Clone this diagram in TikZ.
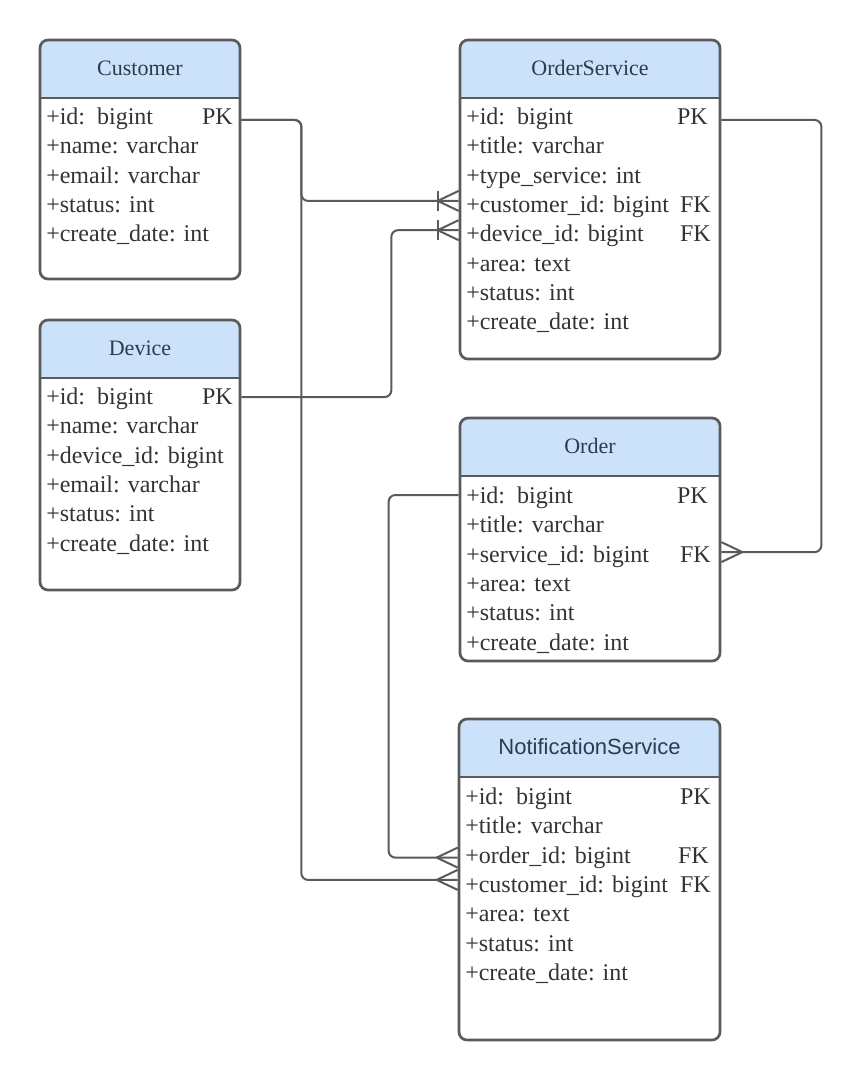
\documentclass[tikz,border=0pt]{standalone}
\usepackage{fontspec}
\setmainfont{Liberation Serif}
\newfontfamily\hsans{Liberation Sans}
\usetikzlibrary{fit,calc}
\definecolor{bordergray}{HTML}{5A5A5A}
\definecolor{hdrblue}{HTML}{CCE1FA}
\definecolor{hdrtextc}{HTML}{2E3B4C}
\definecolor{rowtextc}{HTML}{333333}
\definecolor{conncol}{HTML}{5A5A5A}
\tikzset{
  tbl/.style={draw=bordergray, line width=2pt, rounded corners=6pt, inner sep=0pt},
  tblline/.style={draw=bordergray, line width=2pt},
  hdr/.style={fill=hdrblue},
  hdrtext/.style={text=hdrtextc, font=\fontsize{16.5}{20}\selectfont, inner sep=0pt},
  row/.style={text=rowtextc, font=\fontsize{18}{22}\selectfont, inner sep=0pt, text height=12.5pt, text depth=4pt, anchor=west, yshift=-1.5pt},
  keyl/.style={row, anchor=east},
  conn/.style={draw=conncol, line width=1.5pt},
}
\newcommand{\erbox}[6]{%
  \fill[hdr] (#2,#3+58) [rounded corners=6pt] -- (#2,#3) -- (#4,#3) [sharp corners] -- (#4,#3+58) -- cycle;
  \node[tbl, fit={(#2,#3)(#4,#5)}] (#1) {};
  \draw[tblline] (#2,#3+58) -- (#4,#3+58);
  \node[hdrtext] (#1-t) at ({(#2+#4)/2},#3+28) {#6};
}
\newcommand{\crowW}[1]{\draw[conn] ($(#1)+(-21,0)$) -- ($(#1)+(0,-10)$) ($(#1)+(-21,0)$) -- ($(#1)+(0,10)$);}
\newcommand{\crowE}[1]{\draw[conn] ($(#1)+(21,0)$) -- ($(#1)+(0,-10)$) ($(#1)+(21,0)$) -- ($(#1)+(0,10)$);}
\newcommand{\barW}[1]{\draw[conn] ($(#1)+(-21,-10)$) -- ($(#1)+(-21,10)$);}
\begin{document}
\begin{tikzpicture}[x=0.75pt,y=-0.75pt]
\useasboundingbox (0,0) rectangle (860,1080);
% Customer
\erbox{cust}{40}{40}{240}{279}{Customer}
\node[row] (c1) at (46,117) {+id:\ \ bigint};
\node[keyl] (cpk) at (233,117) {PK};
\node[row] (c2) at (46,146.3) {+name: varchar};
\node[row] (c3) at (46,175.6) {+email: varchar};
\node[row] (c4) at (46,204.9) {+status: int};
\node[row] (c5) at (46,234.2) {+create\_date: int};
% Device
\erbox{dev}{40}{320}{240}{590}{Device}
\node[row] (d1) at (46,397) {+id:\ \ bigint};
\node[keyl] (dpk) at (233,397) {PK};
\node[row] (d2) at (46,426.3) {+name: varchar};
\node[row] (d3) at (46,455.6) {+device\_id: bigint};
\node[row] (d4) at (46,484.9) {+email: varchar};
\node[row] (d5) at (46,514.2) {+status: int};
\node[row] (d6) at (46,543.5) {+create\_date: int};
% OrderService
\erbox{os}{460}{40}{720}{359}{OrderService}
\node[row] (os1) at (466,117) {+id:\ \ bigint};
\node[keyl] (ospk) at (708,117) {PK};
\node[row] (os2) at (466,146.3) {+title: varchar};
\node[row] (os3) at (466,175.6) {+type\_service: int};
\node[row] (os4) at (466,204.9) {+customer\_id: bigint};
\node[keyl] (osfk1) at (711,204.9) {FK};
\node[row] (os5) at (466,234.2) {+device\_id: bigint};
\node[keyl] (osfk2) at (711,234.2) {FK};
\node[row] (os6) at (466,263.5) {+area: text};
\node[row] (os7) at (466,292.8) {+status: int};
\node[row] (os8) at (466,322.1) {+create\_date: int};
% Order
\erbox{ord}{460}{418}{720}{661}{Order}
\node[row] (o1) at (466,496) {+id:\ \ bigint};
\node[keyl] (opk) at (708,496) {PK};
\node[row] (o2) at (466,525.3) {+title: varchar};
\node[row] (o3) at (466,554.6) {+service\_id: bigint};
\node[keyl] (ofk) at (711,554.6) {FK};
\node[row] (o4) at (466,583.9) {+area: text};
\node[row] (o5) at (466,613.2) {+status: int};
\node[row] (o6) at (466,642.5) {+create\_date: int};
% NotificationService
\erbox{ns}{459}{719}{720}{1040}{\hsans NotificationService}
\node[row] (n1) at (465,797) {+id:\ \ bigint};
\node[keyl] (npk) at (711,797) {PK};
\node[row] (n2) at (465,826.3) {+title: varchar};
\node[row] (n3) at (465,855.6) {+order\_id: bigint};
\node[keyl] (nfk1) at (709,855.6) {FK};
\node[row] (n4) at (465,884.9) {+customer\_id: bigint};
\node[keyl] (nfk2) at (711,884.9) {FK};
\node[row] (n5) at (465,914.2) {+area: text};
\node[row] (n6) at (465,943.5) {+status: int};
\node[row] (n7) at (465,972.8) {+create\_date: int};
% connector end points
\coordinate (e1) at ($(os.west |- os4)+(0,-6)$);
\coordinate (e2) at ($(os.west |- os5)+(0,-6)$);
\coordinate (e3) at ($(ord.east |- o3)+(0,-4.5)$);
\coordinate (e4) at (ns.west |- n3);
\coordinate (e5) at ($(ns.west |- n4)+(0,-7)$);
\coordinate (s1) at ($(cust.east |- cpk)+(0,1)$);
\coordinate (s2) at ($(dev.east |- dpk)+(0,-2)$);
\coordinate (s3) at ($(os.east |- ospk)+(0,1)$);
\coordinate (s4) at ($(ord.west |- o1)+(0,-3)$);
% connectors
\draw[conn, rounded corners=5pt] (s1) -- ++(60,0) |- (e1);
\draw[conn, rounded corners=5pt] (s1) -- ++(60,0) |- (e5);
\draw[conn, rounded corners=5pt] (s2) -- ++(150,0) |- (e2);
\draw[conn, rounded corners=5pt] (s3) -- ++(100,0) |- (e3);
\draw[conn, rounded corners=5pt] (s4) -- ++(-70,0) |- (e4);
% crow's feet
\crowW{e1}\barW{e1}
\crowW{e2}\barW{e2}
\crowE{e3}
\crowW{e4}
\crowW{e5}
\end{tikzpicture}
\end{document}
